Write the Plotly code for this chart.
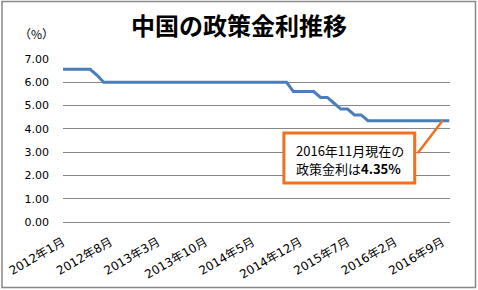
import plotly.graph_objects as go

# Monthly categories 2012年1月 .. 2016年11月
months = []
for y in range(2012, 2017):
    for m in range(1, 13):
        if y == 2016 and m > 11:
            break
        months.append(f"{y}年{m}月")

# Policy rate (%) per month
rates = ([6.56] * 5 + [6.31] + [6.00] * 28 + [5.60] * 4 + [5.35] * 2 +
         [5.10] + [4.85] * 2 + [4.60] * 2 + [4.35] * 13)

tick_labels = months[::7]
y_ticks = [0, 1, 2, 3, 4, 5, 6, 7]

callout_lines = ["2016年11月現在の", "政策金利は<b>4.35%</b>"]

FONT = "DejaVu Sans, Noto Sans CJK JP"
CJK = "Noto Sans CJK JP"
ORANGE = "#F07020"

fig = go.Figure()
fig.add_trace(go.Scatter(
    x=months, y=rates, mode="lines",
    line=dict(color="#4A7EBB", width=3),
    hoverinfo="x+y",
))

fig.update_layout(
    width=478, height=290,
    margin=dict(l=63, r=28, t=59, b=68, autoexpand=False),
    paper_bgcolor="white", plot_bgcolor="white",
    showlegend=False,
    font=dict(family=FONT, color="black", size=12),
    title=dict(text="<b>中国の政策金利推移</b>", x=0.5, xref="container",
               y=1 - 27 / 290, yref="container", yanchor="middle",
               xanchor="center", font=dict(size=24, family=CJK, color="black")),
    xaxis=dict(type="category", tickmode="array", tickvals=tick_labels,
               ticktext=tick_labels, tickangle=-30, showgrid=False,
               showline=False, ticks="", ticklabelstandoff=10,
               automargin=False, tickfont=dict(size=12, family=FONT)),
    yaxis=dict(range=[0, 7], tickmode="array", tickvals=y_ticks,
               tickformat=".2f", showgrid=True, gridcolor="#888888",
               gridwidth=1, zeroline=True, zerolinecolor="#888888",
               zerolinewidth=1, showline=False, ticks="",
               ticklabelstandoff=13, automargin=False,
               tickfont=dict(size=11, family=FONT)),
    shapes=[
        dict(type="rect", xref="paper", yref="paper",
             x0=(2 - 63) / 387, x1=(475.5 - 63) / 387,
             y0=(222 - 287.5) / 163, y1=(222 - 1.5) / 163,
             line=dict(color="#888888", width=1.5), layer="below"),
        # callout box
        dict(type="rect", xref="x", yref="y",
             x0=32.6, x1=51.9, y0=1.68, y1=3.82,
             fillcolor="white", line=dict(color=ORANGE, width=3),
             layer="above"),
    ],
    annotations=[
        dict(text="（%）", xref="paper", yref="paper",
             x=(36 - 63) / 387, y=(222 - 33) / 163, showarrow=False,
             xanchor="center", yanchor="middle",
             font=dict(size=12, family=CJK)),
        dict(text="", x=56, y=4.35, xref="x", yref="y",
             showarrow=True, arrowhead=0, arrowwidth=2.5, arrowcolor=ORANGE,
             ax=-26, ay=34),
        dict(text=callout_lines[0], x=34.1, y=3.09, xref="x", yref="y",
             showarrow=False, xanchor="left", yanchor="middle",
             font=dict(size=13, family=CJK, color="black")),
        dict(text=callout_lines[1], x=34.1, y=2.31, xref="x", yref="y",
             showarrow=False, xanchor="left", yanchor="middle",
             font=dict(size=13, family=CJK, color="black")),
    ],
)

fig.write_html("out.html")
